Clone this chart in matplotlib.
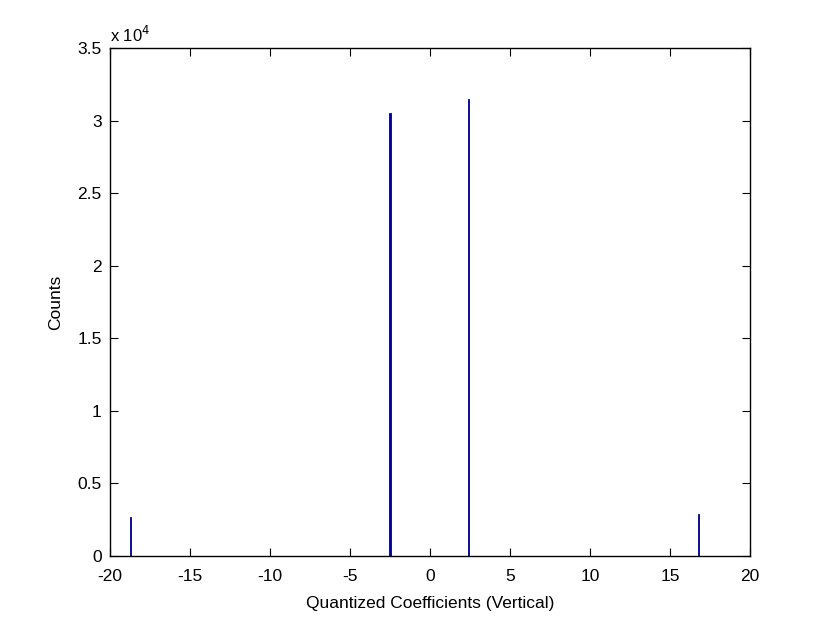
import numpy as np
import matplotlib.pyplot as plt
from matplotlib.ticker import FuncFormatter

# bin centres and counts
centres = [-18.7, -2.5, 2.4, 16.8]
counts = [2700, 30500, 31500, 2900]

plt.rcParams['font.family'] = ['Liberation Sans', 'DejaVu Sans']
plt.rcParams['axes.unicode_minus'] = False

fig = plt.figure(figsize=(8.3, 6.23), dpi=100)
ax = fig.add_axes([0.1325, 0.1075, 0.771, 0.8155])

ax.bar(centres, counts, width=0.08, color='#00008f', edgecolor='#00008f', linewidth=0.6)

ax.set_xlim(-20, 20)
ax.set_ylim(0, 35000)
ax.set_xticks(np.arange(-20, 21, 5))
ax.set_yticks(np.arange(0, 35001, 5000))
ax.yaxis.set_major_formatter(FuncFormatter(lambda v, p: f'{v / 1e4:g}'))

ax.tick_params(direction='in', top=True, right=True, length=6, labelsize=12.5)
ax.tick_params(axis='x', pad=9)
ax.tick_params(axis='y', pad=6)
for s in ax.spines.values():
    s.set_linewidth(1.0)

ax.text(0.0, 1.005, r'x 10$^{4}$', transform=ax.transAxes, fontsize=12,
        va='bottom', ha='left')

ax.set_xlabel('Quantized Coefficients (Vertical)', fontsize=12.5, labelpad=9)
ax.set_ylabel('Counts', fontsize=12.5, labelpad=10)

fig.savefig('out.png', dpi=100)
